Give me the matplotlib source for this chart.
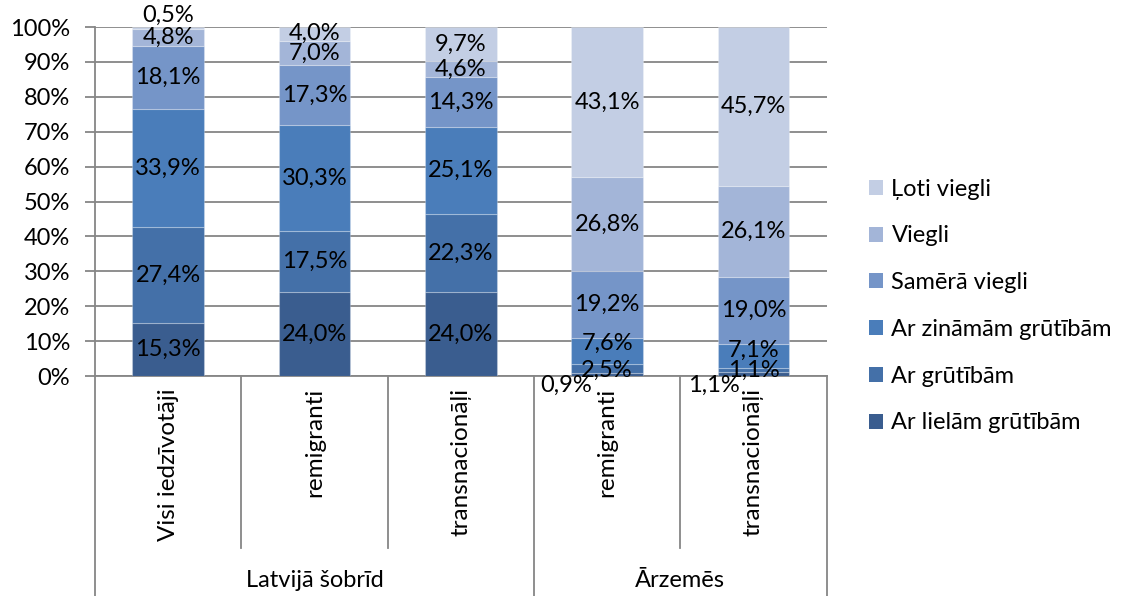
import matplotlib.pyplot as plt
from matplotlib.patches import Patch
from matplotlib.transforms import blended_transform_factory

plt.rcParams['font.family'] = ['Lato', 'DejaVu Sans']

groups = ["Latvijā šobrīd", "Ārzemēs"]
categories = ["Visi iedzīvotāji", "remigranti", "transnacionāļi", "remigranti", "transnacionāļi"]
group_of = [0, 0, 0, 1, 1]

series = ["Ar lielām grūtībām", "Ar grūtībām", "Ar zināmām grūtībām",
          "Samērā viegli", "Viegli", "Ļoti viegli"]
lielam = [15.3, 24.0, 24.0, 0.9, 1.1]
grutibam = [27.4, 17.5, 22.3, 2.5, 1.1]
zinamam = [33.9, 30.3, 25.1, 7.6, 7.1]
samera = [18.1, 17.3, 14.3, 19.2, 19.0]
viegli = [4.8, 7.0, 4.6, 26.8, 26.1]
loti = [0.5, 4.0, 9.7, 43.1, 45.7]
values = [lielam, grutibam, zinamam, samera, viegli, loti]

colors = ["#3a5d8f", "#4470a8", "#4a7dba", "#7595c8", "#a3b5d8", "#c3cee4"]

# labels Excel pushed out of the way (pixels)
label_shift = {(5, 0): (0, 13), (0, 3): (-41, -11), (0, 4): (-40, -11),
               (2, 3): (0, 8), (2, 4): (0, 6), (1, 3): (0, -2)}

fig = plt.figure(figsize=(11.22, 5.96), dpi=100)
ax = fig.add_axes([0.0847, 0.369, 0.652, 0.5856])

x = list(range(len(categories)))
bottom = [0.0] * len(categories)
for si, (name, vals) in enumerate(zip(series, values)):
    ax.bar(x, vals, 0.49, bottom=bottom, color=colors[si], label=name,
           edgecolor=(1, 1, 1, 0.25), linewidth=0.8, zorder=3)
    for ci, v in enumerate(vals):
        dx, dy = label_shift.get((si, ci), (0, 0))
        ax.annotate(f"{v:.1f}".replace(".", ",") + "%", (ci, bottom[ci] + v / 2),
                    xytext=(dx, dy), textcoords="offset pixels",
                    ha="center", va="center", fontsize=17, color="black", zorder=5,
                    annotation_clip=False)
    bottom = [b + v for b, v in zip(bottom, vals)]

ax.set_xlim(-0.5, len(categories) - 0.5)
ax.set_ylim(0, 100)
ax.set_yticks(range(0, 101, 10))
ax.set_yticklabels([f"{t}%" for t in range(0, 101, 10)], fontsize=17)
ax.tick_params(axis="y", length=7, width=1.3, color="#868686", pad=11)
ax.set_xticks([])
ax.yaxis.grid(True, color="#868686", linewidth=1.3, zorder=0)
ax.set_axisbelow(True)
for s in ["top", "right"]:
    ax.spines[s].set_visible(False)
for s in ["left", "bottom"]:
    ax.spines[s].set_color("#868686")
    ax.spines[s].set_linewidth(1.3)

# two-level category axis
tr = blended_transform_factory(ax.transData, ax.transAxes)
for ci, name in enumerate(categories):
    ax.text(ci, -0.034, name, transform=tr, rotation=90, ha="center", va="top", fontsize=17.5)
for b in range(len(categories) + 1):
    xb = b - 0.5
    full = b == 0 or b == len(categories) or group_of[b - 1] != group_of[b]
    ax.plot([xb, xb], [0, -0.63 if full else -0.493], transform=tr, color="#868686",
            linewidth=1.3, clip_on=False)
for gi, g in enumerate(groups):
    members = [ci for ci in x if group_of[ci] == gi]
    ax.text(sum(members) / len(members), -0.585, g, transform=tr, ha="center",
            va="center", fontsize=17)

handles = [Patch(facecolor=colors[i], label=series[i]) for i in reversed(range(len(series)))]
fig.legend(handles=handles, loc="upper left", bbox_to_anchor=(0.764, 0.72), frameon=False,
           fontsize=17, handlelength=0.6, handleheight=0.6, handletextpad=0.35,
           labelspacing=1.09, borderpad=0)

fig.savefig("out.png", dpi=100)
